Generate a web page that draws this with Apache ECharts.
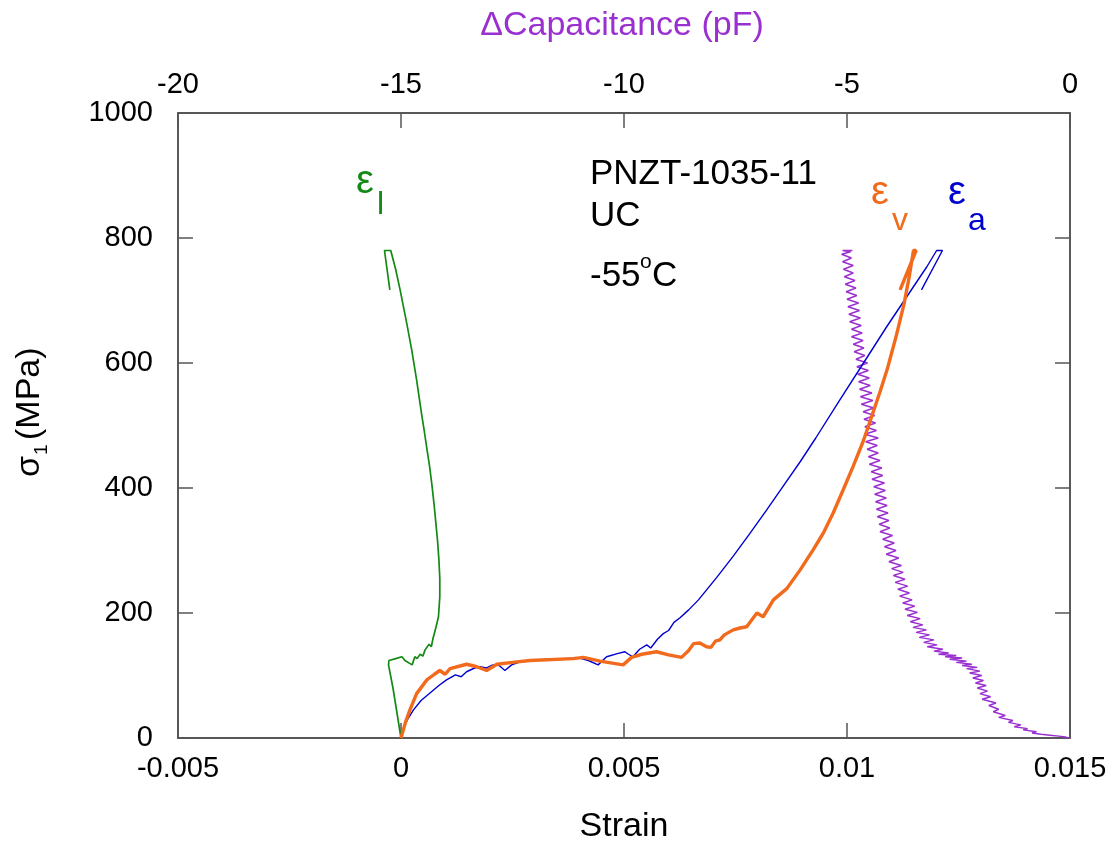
<!DOCTYPE html>
<html>
<head>
<meta charset="utf-8">
<script src="https://cdn.jsdelivr.net/npm/echarts@6/dist/echarts.min.js"></script>
<style>
html,body{margin:0;padding:0;background:#fff;}
#chart{width:1112px;height:842px;}
</style>
</head>
<body>
<div id="chart"></div>
<script>
// ---- Tick labels ----
const strainTicks = ['-0.005', '0', '0.005', '0.01', '0.015'];
const capTicks = ['-20', '-15', '-10', '-5', '0'];
const stressTicks = ['0', '200', '400', '600', '800', '1000'];

// ---- Series: [strain, stress MPa] ----
const epsL = [[0,0],[-0.00009,40],[-0.00018,80],[-0.00028,117],[-0.00027,124],[-0.00012,127],[0.00002,130],[0.00009,124],[0.00025,117],[0.00031,130],[0.00036,127],[0.00043,134],[0.00049,131],[0.00054,141],[0.00058,138],[0.00063,150],[0.00068,146],[0.00072,160],[0.00078,176],[0.00084,194],[0.00087,226],[0.00087,255],[0.00085,285],[0.00082,315],[0.00078,345],[0.00074,375],[0.00069,407],[0.00064,435],[0.00058,463],[0.00052,492],[0.00046,519],[0.00035,573],[0.00024,621],[0.00013,663],[-0.00002,717],[-0.00012,750],[-0.00023,780],[-0.00037,780],[-0.00025,717]];

const epsA = [[0,0],[0.00005,15],[0.00015,30],[0.00028,45],[0.00045,60],[0.00065,72],[0.00085,84],[0.00102,93],[0.00122,101],[0.00135,98],[0.00147,106],[0.00165,112],[0.00177,114],[0.00192,112],[0.00206,117],[0.0022,116],[0.00233,108],[0.00248,117],[0.00267,122],[0.003,124],[0.00327,126],[0.00365,127],[0.00401,128],[0.0042,124],[0.00442,117],[0.00461,130],[0.00485,135],[0.00502,138],[0.0051,134],[0.0052,130],[0.00535,142],[0.00551,149],[0.0056,144],[0.00575,158],[0.00588,167],[0.006,172],[0.00612,185],[0.00625,192],[0.00645,205],[0.00667,221],[0.00708,257],[0.00745,291],[0.00782,327],[0.0082,365],[0.00857,403],[0.00895,442],[0.0093,480],[0.00984,541],[0.01037,600],[0.01089,658],[0.01134,706],[0.01179,754],[0.01201,780],[0.01214,780],[0.01167,717]];

const epsV = [[0,0],[0.0001,25],[0.0002,45],[0.00035,71],[0.00058,93],[0.00075,102],[0.00087,108],[0.00099,102],[0.0011,111],[0.00147,118],[0.0017,114],[0.00192,108],[0.00215,118],[0.0025,121],[0.00289,124],[0.00386,127],[0.00409,129],[0.00446,123],[0.00498,117],[0.00517,129],[0.0054,134],[0.00573,138],[0.006,133],[0.00629,129],[0.00645,140],[0.00656,151],[0.0067,152],[0.00685,146],[0.00695,145],[0.00705,155],[0.00715,157],[0.00725,165],[0.00745,173],[0.0076,176],[0.00775,178],[0.00798,200],[0.00812,194],[0.00835,221],[0.00865,239],[0.00895,269],[0.00924,301],[0.00947,328],[0.00969,360],[0.00992,398],[0.01014,435],[0.01037,476],[0.01057,518],[0.01075,556],[0.01091,592],[0.01111,645],[0.01128,695],[0.0114,740],[0.01149,780],[0.01155,780],[0.01119,717]];

// ---- Capacitance: [ΔC pF, stress MPa] ----
const capData = [[0,0],[-0.1,1.5],[-0.25,3],[-0.45,4.5],[-0.65,6],[-0.85,8],[-0.75,10],[-1.05,13],[-0.95,15],[-1.25,18],[-1.1,21],[-1.38,25],[-1.28,28],[-1.6,33],[-1.45,36],[-1.72,42],[-1.6,46],[-1.82,52],[-1.66,56],[-1.97,62],[-1.78,66],[-2.02,71],[-1.85,75],[-2.08,80],[-1.88,84],[-2.12,88],[-1.94,92],[-2.18,96],[-1.98,100],[-2.25,104],[-2.02,107],[-2.32,111],[-2.08,113],[-2.42,116],[-2.2,118],[-2.55,121],[-2.32,123],[-2.7,126],[-2.42,128],[-2.8,130],[-2.55,132],[-2.95,134],[-2.72,136],[-3.05,139],[-2.85,142],[-3.2,146],[-2.98,149],[-3.28,153],[-3.05,157],[-3.38,161],[-3.15,165],[-3.45,169],[-3.22,173],[-3.52,177],[-3.3,181],[-3.58,186],[-3.36,191],[-3.65,196],[-3.42,201],[-3.7,206],[-3.48,211],[-3.75,216],[-3.54,221],[-3.82,227],[-3.6,232],[-3.86,238],[-3.64,243],[-3.92,249],[-3.7,254],[-3.96,260],[-3.74,265],[-4.0,271],[-3.78,276],[-4.06,282],[-3.84,288],[-4.12,294],[-3.9,300],[-4.16,306],[-3.94,312],[-4.2,318],[-3.98,324],[-4.26,330],[-4.04,336],[-4.28,342],[-4.06,348],[-4.32,354],[-4.08,360],[-4.34,366],[-4.1,372],[-4.36,378],[-4.12,384],[-4.38,390],[-4.14,396],[-4.4,402],[-4.16,408],[-4.44,414],[-4.2,420],[-4.46,426],[-4.22,432],[-4.5,438],[-4.26,444],[-4.52,450],[-4.3,456],[-4.55,462],[-4.32,468],[-4.58,474],[-4.3,480],[-4.6,486],[-4.34,492],[-4.6,498],[-4.36,504],[-4.62,510],[-4.38,516],[-4.64,522],[-4.4,528],[-4.68,534],[-4.42,540],[-4.7,546],[-4.44,552],[-4.72,558],[-4.48,564],[-4.74,570],[-4.5,576],[-4.76,582],[-4.52,588],[-4.78,594],[-4.54,600],[-4.8,606],[-4.6,612],[-4.84,618],[-4.62,624],[-4.86,630],[-4.64,636],[-4.9,642],[-4.66,648],[-4.9,654],[-4.68,660],[-4.94,666],[-4.7,672],[-4.96,678],[-4.72,684],[-4.98,690],[-4.74,696],[-5.0,702],[-4.78,708],[-5.02,714],[-4.8,720],[-5.04,726],[-4.82,732],[-5.06,738],[-4.86,744],[-5.08,750],[-4.86,756],[-5.1,762],[-4.9,768],[-5.12,774],[-4.92,778],[-5.1,780],[-4.88,780]];

const FONT = '"Liberation Sans", Arial, sans-serif';
const GREEN = '#138a13', BLUE = '#0000d0', ORANGE = '#f26a1b', PURPLE = '#9b30d0';

function tickFmt(labels, min, step) {
  return function (v) { const i = Math.round((v - min) / step); return labels[i] !== undefined ? labels[i] : ''; };
}

const axisLineStyle = { color: '#222', width: 1.5 };
const tickStyle = { show: true, inside: true, length: 15, lineStyle: { color: '#555', width: 1.5 } };
function lab(margin, fmt) { return { color: '#000', fontSize: 29, fontFamily: FONT, margin: margin, formatter: fmt }; }

const chart = echarts.init(document.getElementById('chart'), null, { renderer: 'canvas' });
chart.setOption({
  animation: false,
  backgroundColor: '#fff',
  grid: { left: 178, right: 42, top: 113, bottom: 104, containLabel: false },
  xAxis: [
    { type: 'value', position: 'bottom', min: -0.005, max: 0.015, interval: 0.005,
      axisLine: { show: true, onZero: false, lineStyle: axisLineStyle },
      axisTick: tickStyle, splitLine: { show: false },
      axisLabel: lab(16, tickFmt(strainTicks, -0.005, 0.005)) },
    { type: 'value', position: 'top', min: -20, max: 0, interval: 5,
      axisLine: { show: true, onZero: false, lineStyle: axisLineStyle },
      axisTick: tickStyle, splitLine: { show: false },
      axisLabel: lab(14, tickFmt(capTicks, -20, 5)) }
  ],
  yAxis: [
    { type: 'value', position: 'left', min: 0, max: 1000, interval: 200,
      axisLine: { show: true, onZero: false, lineStyle: axisLineStyle },
      axisTick: tickStyle, splitLine: { show: false },
      axisLabel: lab(25, tickFmt(stressTicks, 0, 200)) },
    { type: 'value', position: 'right', min: 0, max: 1000, interval: 200,
      axisLine: { show: true, onZero: false, lineStyle: axisLineStyle },
      axisTick: tickStyle, splitLine: { show: false }, axisLabel: { show: false } }
  ],
  series: [
    { name: 'dC', type: 'line', xAxisIndex: 1, yAxisIndex: 0, data: capData, symbol: 'none',
      lineStyle: { color: PURPLE, width: 1.4 }, z: 2 },
    { name: 'ea', type: 'line', xAxisIndex: 0, yAxisIndex: 0, data: epsA, symbol: 'none',
      lineStyle: { color: BLUE, width: 1.4 }, z: 3 },
    { name: 'el', type: 'line', xAxisIndex: 0, yAxisIndex: 0, data: epsL, symbol: 'none',
      lineStyle: { color: GREEN, width: 1.7 }, z: 3 },
    { name: 'ev', type: 'line', xAxisIndex: 0, yAxisIndex: 0, data: epsV, symbol: 'none',
      lineStyle: { color: ORANGE, width: 3.4 }, z: 4 }
  ],
  graphic: [
    { type: 'text', x: 622, y: 26, style: { text: '\u0394Capacitance (pF)', fill: PURPLE, font: '34px ' + FONT, textAlign: 'center', textVerticalAlign: 'middle' } },
    { type: 'text', x: 624, y: 827, style: { text: 'Strain', fill: '#000', font: '34px ' + FONT, textAlign: 'center', textVerticalAlign: 'middle' } },
    { type: 'group', x: 30, y: 477, rotation: Math.PI / 2, children: [
      { type: 'text', x: 0, y: 0, style: { text: '\u03c3', fill: '#000', font: '34px ' + FONT, textAlign: 'left', textVerticalAlign: 'middle' } },
      { type: 'text', x: 22, y: 12, style: { text: '1', fill: '#000', font: '19px ' + FONT, textAlign: 'left', textVerticalAlign: 'middle' } },
      { type: 'text', x: 37, y: 0, style: { text: '(MPa)', fill: '#000', font: '34px ' + FONT, textAlign: 'left', textVerticalAlign: 'middle' } }
    ] },
    { type: 'text', x: 590, y: 174, style: { text: 'PNZT-1035-11', fill: '#000', font: '35px ' + FONT, textVerticalAlign: 'middle' } },
    { type: 'text', x: 590, y: 216, style: { text: 'UC', fill: '#000', font: '35px ' + FONT, textVerticalAlign: 'middle' } },
    { type: 'text', x: 590, y: 276, style: { text: '-55', fill: '#000', font: '35px ' + FONT, textVerticalAlign: 'middle' } },
    { type: 'text', x: 640, y: 262, style: { text: 'o', fill: '#000', font: '21px ' + FONT, textVerticalAlign: 'middle' } },
    { type: 'text', x: 652, y: 276, style: { text: 'C', fill: '#000', font: '35px ' + FONT, textVerticalAlign: 'middle' } },
    { type: 'text', x: 356, y: 182, style: { text: '\u03b5', fill: GREEN, font: '40px ' + FONT, textVerticalAlign: 'middle' } },
    { type: 'text', x: 377, y: 205, style: { text: 'l', fill: GREEN, font: '32px ' + FONT, textVerticalAlign: 'middle' } },
    { type: 'text', x: 871, y: 193, style: { text: '\u03b5', fill: ORANGE, font: '40px ' + FONT, textVerticalAlign: 'middle' } },
    { type: 'text', x: 892, y: 221, style: { text: 'v', fill: ORANGE, font: '32px ' + FONT, textVerticalAlign: 'middle' } },
    { type: 'text', x: 948, y: 193, style: { text: '\u03b5', fill: BLUE, font: '40px ' + FONT, textVerticalAlign: 'middle' } },
    { type: 'text', x: 968, y: 221, style: { text: 'a', fill: BLUE, font: '32px ' + FONT, textVerticalAlign: 'middle' } }
  ]
});
</script>
</body>
</html>
